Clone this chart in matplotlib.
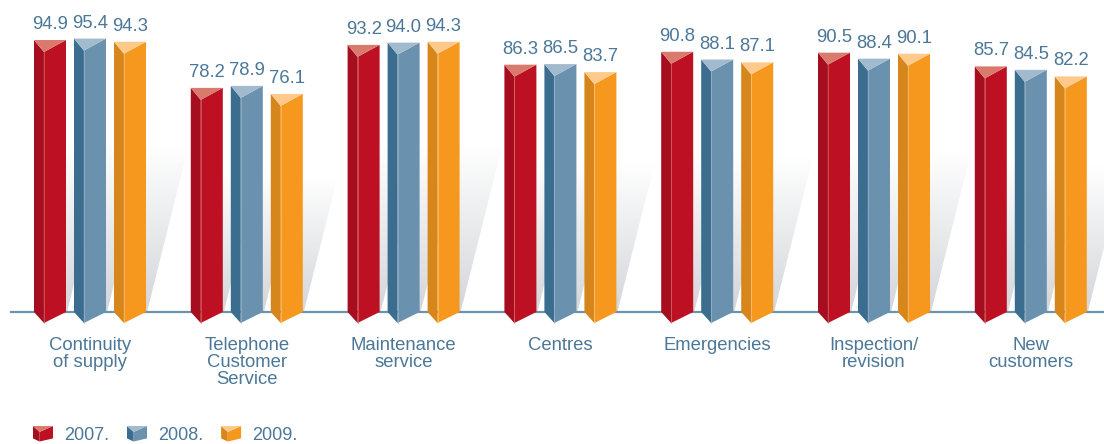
import matplotlib

matplotlib.use("Agg")
import matplotlib.pyplot as plt
import numpy as np
from matplotlib.legend_handler import HandlerBase
from matplotlib.patches import Patch, Polygon

CATEGORIES = [
    "Continuity\nof supply",
    "Telephone\nCustomer\nService",
    "Maintenance\nservice",
    "Centres",
    "Emergencies",
    "Inspection/\nrevision",
    "New\ncustomers",
]
YEARS = ["2007.", "2008.", "2009."]
VALUES_2007 = [94.9, 78.2, 93.2, 86.3, 90.8, 90.5, 85.7]
VALUES_2008 = [95.4, 78.9, 94.0, 86.5, 88.1, 88.4, 84.5]
VALUES_2009 = [94.3, 76.1, 94.3, 83.7, 87.1, 90.1, 82.2]

# side / front / top shades for each year
SHADES = [
    ("#a60d1f", "#be1023", "#d97a6d"),
    ("#3b6d8e", "#6a91ae", "#a2bace"),
    ("#d6861b", "#f7981e", "#fec98a"),
]
TEXT = "#4b7798"
LINE = "#6b93ad"

W, H = 1104, 444
PX_X = 156.8  # pixels per category
PX_Y = 2.866  # pixels per percent point
BASE_PX = 312
CENTER0_PX = 90

plt.rcParams["font.family"] = ["Liberation Sans", "DejaVu Sans"]


def prism(ax, xl, width, top, top_d, bot_d, shades, z=3):
    side, front, cap = shades
    xd = xl + width * 0.31
    xr = xl + width
    kw = dict(closed=True, lw=0, zorder=z)
    ax.add_patch(Polygon([(xl, top), (xl, 0), (xd, -bot_d), (xd, top - top_d)], fc=side, **kw))
    ax.add_patch(Polygon([(xd, top - top_d), (xd, -bot_d), (xr, 0), (xr, top)], fc=front, **kw))
    ax.add_patch(Polygon([(xl, top), (xr, top), (xd, top - top_d)], fc=cap, **kw))
    ax.plot([xd, xd], [-bot_d, top - top_d], color=cap, lw=0.7, alpha=0.6, zorder=z)


def shadow(ax, xr, value):
    # soft grey wedge falling to the right of a bar
    h = value * 0.62
    slope = 0.25 * PX_Y / PX_X
    x0 = xr - 3 / PX_X
    x1 = xr + 1 / PX_X + slope * h
    poly = Polygon([(x0, 0), (xr + 1 / PX_X, 0), (x1, h), (x0, h)], closed=True,
                   fc="none", lw=0, transform=ax.transData)
    grad = np.zeros((256, 1, 4))
    grad[..., :3] = (0.82, 0.83, 0.845)
    grad[:, 0, 3] = np.linspace(0.95, 0.0, 256)
    im = ax.imshow(grad, extent=(x0, x1, 0, h), origin="lower", aspect="auto",
                   interpolation="bilinear", zorder=1)
    im.set_clip_path(poly)


class PrismHandler(HandlerBase):
    def __init__(self, shades):
        super().__init__()
        self.shades = shades

    def create_artists(self, legend, orig_handle, xdescent, ydescent, width, height, fontsize, trans):
        x0, y0 = -xdescent, -ydescent
        side, front, cap = self.shades
        xl, xr = x0, x0 + width
        xd = xl + width * 0.33
        top = y0 + height
        bot = y0 + height * 0.2
        td = height * 0.38
        kw = dict(closed=True, lw=0, transform=trans)
        return [
            Polygon([(xl, top), (xl, bot), (xd, y0), (xd, top - td)], fc=side, **kw),
            Polygon([(xd, top - td), (xd, y0), (xr, bot), (xr, top)], fc=front, **kw),
            Polygon([(xl, top), (xr, top), (xd, top - td)], fc=cap, **kw),
        ]


fig = plt.figure(figsize=(W / 100, H / 100), dpi=100)
ax = fig.add_axes([0, 0, 1, 1])
ax.axis("off")

series = [VALUES_2007, VALUES_2008, VALUES_2009]
bar_w = 32 / PX_X
offsets = [-56 / PX_X, -16 / PX_X, 24 / PX_X]
top_d = 12 / PX_Y
bot_d = 11 / PX_Y

for vals, off in zip(series, offsets):
    for i, v in enumerate(vals):
        shadow(ax, i + off + bar_w, v)

ax.axhline(0, xmin=11 / W, xmax=1, color=LINE, lw=1.6, zorder=2)

for vals, off, shades in zip(series, offsets, SHADES):
    for i, v in enumerate(vals):
        prism(ax, i + off, bar_w, v, top_d, bot_d, shades)
        ax.annotate(f"{v:.1f}", (i + off + bar_w / 2, v), xytext=(0, 11),
                    textcoords="offset pixels", ha="center", va="baseline",
                    fontsize=13.3, color=TEXT)

for i, cat in enumerate(CATEGORIES):
    ax.annotate(cat, (i, 0), xytext=(0, -25), textcoords="offset pixels",
                ha="center", va="top", fontsize=13.3, color=TEXT, linespacing=1.0)

ax.set_xlim(-CENTER0_PX / PX_X, (W - CENTER0_PX) / PX_X)
ax.set_ylim((BASE_PX - H) / PX_Y, BASE_PX / PX_Y)

handles = [Patch(facecolor=s[1]) for s in SHADES]
handler_map = {h: PrismHandler(s) for h, s in zip(handles, SHADES)}
fs = 13.0
fs_px = fs * 100 / 72
ax.legend(handles, YEARS, handler_map=handler_map, loc="center left",
          bbox_to_anchor=(33 / W, 9 / H), ncol=3, frameon=False, fontsize=fs,
          labelcolor=TEXT, borderpad=0, borderaxespad=0,
          handlelength=20 / fs_px, handleheight=17 / fs_px,
          handletextpad=11 / fs_px, columnspacing=18 / fs_px)

fig.savefig("out.png", dpi=100)
